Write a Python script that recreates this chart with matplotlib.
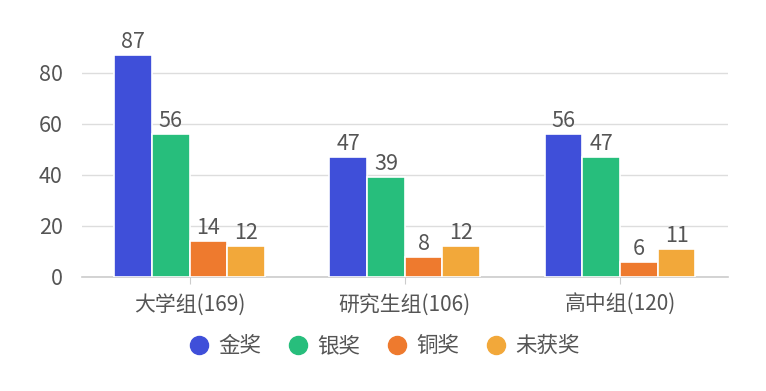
import numpy as np
import matplotlib
matplotlib.use("Agg")
import matplotlib.pyplot as plt
from matplotlib.lines import Line2D

plt.rcParams['font.family'] = ['Noto Sans CJK SC', 'DejaVu Sans']

# ---------------------------------------------
# Dados
# ---------------------------------------------
categorias = ['大学组(169)', '研究生组(106)', '高中组(120)']
series = ['金奖', '银奖', '铜奖', '未获奖']
jin = [87, 47, 56]
yin = [56, 39, 47]
tong = [14, 8, 6]
wei = [12, 12, 11]
valores = [jin, yin, tong, wei]
cores = ['#3f4fd9', '#27be7c', '#ee7a2e', '#f2a83a']

cor_texto = '#555555'

fig = plt.figure(figsize=(7.66, 3.91), dpi=100)
ax = fig.add_axes([0.107, 0.2916, 0.843, 0.6534])

x = np.arange(len(categorias))
largura = 0.175
for i, (nome, vals) in enumerate(zip(series, valores)):
    pos = x + (i - 1.5) * largura
    barras = ax.bar(pos, vals, largura, color=cores[i], edgecolor='white',
                    linewidth=1.2, zorder=3, label=nome)
    for b, v in zip(barras, vals):
        ax.text(b.get_x() + b.get_width() / 2, v + 0.8, str(v),
                ha='center', va='bottom', fontsize=15.5, color=cor_texto)

ax.set_xlim(-0.5, 2.5)
ax.set_ylim(0, 100)
ax.set_yticks([0, 20, 40, 60, 80])
ax.set_xticks(x)
ax.set_xticklabels(categorias, fontsize=15, color=cor_texto)
ax.tick_params(axis='y', length=0, labelsize=15.5, labelcolor=cor_texto, pad=14)
ax.tick_params(axis='x', length=5, color='#cccccc', pad=7)
ax.grid(axis='y', color='#dddddd', linewidth=1, zorder=0)
for s in ['top', 'right', 'left']:
    ax.spines[s].set_visible(False)
ax.spines['bottom'].set_color('#cccccc')
ax.spines['bottom'].set_linewidth(1.2)

handles = [Line2D([], [], marker='o', linestyle='', markersize=13,
                  markerfacecolor=c, markeredgecolor=c) for c in cores]
fig.legend(handles, series, loc='center', bbox_to_anchor=(0.5, 0.115), ncol=4,
           frameon=False, fontsize=15.5, labelcolor=cor_texto,
           handlelength=1.2, handletextpad=0.3, columnspacing=1.1)

fig.savefig('out.png', dpi=100)
